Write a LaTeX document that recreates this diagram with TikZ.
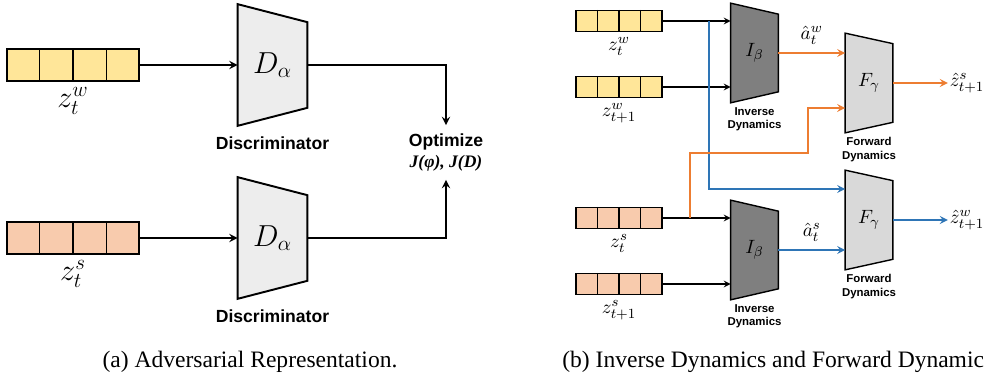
\documentclass[tikz,border=0pt]{standalone}
\usepackage{fontspec}
\setmainfont{Liberation Serif}
\setsansfont{Liberation Sans}
\usetikzlibrary{positioning,calc,backgrounds}

\definecolor{vecyellow}{HTML}{FFE699}
\definecolor{vecpink}{HTML}{F8CBAD}
\definecolor{lineorange}{HTML}{ED7D31}
\definecolor{lineblue}{HTML}{2E75B6}
\definecolor{discgray}{HTML}{EDEDED}
\definecolor{invgray}{HTML}{7F7F7F}
\definecolor{fwdgray}{HTML}{D9D9D9}

\tikzset{
  vec/.style={draw, inner sep=0pt},
  bigvec/.style={vec, line width=1pt, minimum width=2.64cm, minimum height=0.64cm},
  smallvec/.style={vec, line width=0.75pt, minimum width=1.72cm, minimum height=0.42cm},
  bigmath/.style={font=\fontsize{17.28}{20}\selectfont},
  smallmath/.style={font=\fontsize{10.95}{13}\selectfont},
  discbox/.style={minimum width=1.38cm, minimum height=2.42cm, inner sep=0pt, bigmath},
  dynbox/.style={minimum width=0.94cm, minimum height=1.98cm, inner sep=0pt, smallmath},
  lbl/.style={font=\sffamily\bfseries\fontsize{10}{12}\selectfont, inner sep=0pt},
  smalllbl/.style={font=\sffamily\bfseries\fontsize{6.5}{7.8}\selectfont, align=center, inner sep=0pt},
  caption/.style={font=\fontsize{13.4}{16}\selectfont, inner sep=0pt},
  thickline/.style={line width=1.1pt},
  thinline/.style={line width=0.75pt},
  blueline/.style={line width=1pt, draw=lineblue},
  orangeline/.style={line width=1pt, draw=lineorange}
}

\begin{document}
\begin{tikzpicture}[x=0.02cm, y=-0.02cm, >=stealth, node distance=0.1cm]
  \useasboundingbox (0,0) rectangle (987,377);

  % (a) adversarial representation
  \node (zw) [bigvec, fill=vecyellow] at (73,65) {};
  \node (zs) [bigvec, fill=vecpink] at (73,238) {};
  \node (lzw) [below=0.1cm of zw, inner sep=0pt, bigmath] {$z_t^w$};
  \node (lzs) [below=0.1cm of zs, inner sep=0pt, bigmath] {$z_t^s$};

  \node (da1) [discbox] at (272.5,65) {$D_\alpha$};
  \node (da2) [discbox] at (272.5,238) {$D_\alpha$};
  \node (ld1) [below=0.22cm of da1, lbl] {Discriminator};
  \node (ld2) [below=0.22cm of da2, lbl] {Discriminator};

  \node (opt) [lbl, align=center, minimum height=1.08cm] at (446,152.5)
    {Optimize\\{\rmfamily\itshape J(φ), J(D)}};

  \draw[->, thickline] (zw) -- (zw -| da1.west);
  \draw[->, thickline] (zs) -- (zs -| da2.west);
  \draw[->, thickline] (da1.east) -| (opt.north);
  \draw[->, thickline] (da2.east) -| (opt.south);

  % (b) inverse and forward dynamics
  \node (yw1) [smallvec, fill=vecyellow] at (619,21) {};
  \node (yw2) [smallvec, fill=vecyellow] at (619,87) {};
  \node (ys1) [smallvec, fill=vecpink] at (619,218) {};
  \node (ys2) [smallvec, fill=vecpink] at (619,284) {};
  \node (lyw1) [below=0.1cm of yw1, inner sep=0pt, smallmath] {$z_t^w$};
  \node (lyw2) [below=0.1cm of yw2, inner sep=0pt, smallmath] {$z_{t+1}^w$};
  \node (lys1) [below=0.1cm of ys1, inner sep=0pt, smallmath] {$z_t^s$};
  \node (lys2) [below=0.1cm of ys2, inner sep=0pt, smallmath] {$z_{t+1}^s$};

  % cells of the arrays
  \foreach \v/\w in {zw/1pt, zs/1pt, yw1/0.75pt, yw2/0.75pt, ys1/0.75pt, ys2/0.75pt}
    \foreach \i in {1,2,3}
      \draw[line width=\w] ($(\v.north west)!\i/4!(\v.north east)$)
        -- ($(\v.south west)!\i/4!(\v.south east)$);

  \node (ib1) [dynbox] at (754.5,53) {$I_\beta$};
  \node (ib2) [dynbox] at (754.5,250) {$I_\beta$};
  \node (fw1) [dynbox] at (869,83) {$F_\gamma$};
  \node (fw2) [dynbox] at (869,220) {$F_\gamma$};
  \node (lib1) [below=0.08cm of ib1, smalllbl] {Inverse\\Dynamics};
  \node (lib2) [below=0.08cm of ib2, smalllbl] {Inverse\\Dynamics};
  \node (lfw1) [below=0.08cm of fw1, smalllbl] {Forward\\Dynamics};
  \node (lfw2) [below=0.08cm of fw2, smalllbl] {Forward\\Dynamics};

  \node (zsout) [right=1.1cm of fw1, inner sep=1pt, smallmath] {$\hat z_{t+1}^s$};
  \node (zwout) [right=1.1cm of fw2, inner sep=1pt, smallmath] {$\hat z_{t+1}^w$};

  \coordinate (bsplit) at (709,21);
  \coordinate (osplit) at (690,218);
  \coordinate (obend) at (808,153);

  \draw[->, thinline] (yw1) -- (yw1 -| ib1.west);
  \draw[->, thinline] (yw2) -- (yw2 -| ib1.west);
  \draw[->, thinline] (ys1) -- (ys1 -| ib2.west);
  \draw[->, thinline] (ys2) -- (ys2 -| ib2.west);

  \draw[->, blueline] (bsplit) |- ([yshift=0.62cm]fw2.west);
  \draw[->, blueline] (ib2.east) -- node[above=1pt, smallmath] (as) {$\hat a_t^s$} (ib2.east -| fw2.west);
  \draw[->, blueline] (fw2) -- (zwout);

  \draw[->, orangeline] (osplit) |- (obend) |- ([yshift=-0.5cm]fw1.west);
  \draw[->, orangeline] (ib1.east) -- node[above=1pt, smallmath] (aw) {$\hat a_t^w$} (ib1.east -| fw1.west);
  \draw[->, orangeline] (fw1) -- (zsout);

  % trapezoids behind the labels
  \begin{scope}[on background layer]
    \foreach \n/\c/\d in {da1/discgray/0.36cm, da2/discgray/0.36cm}
      \draw[fill=\c, line width=1.1pt] (\n.north west) -- ([yshift=-\d]\n.north east)
        -- ([yshift=\d]\n.south east) -- (\n.south west) -- cycle;
    \foreach \n/\c/\d in {ib1/invgray/0.22cm, ib2/invgray/0.22cm, fw1/fwdgray/0.21cm, fw2/fwdgray/0.21cm}
      \draw[fill=\c, line width=0.8pt] (\n.north west) -- ([yshift=-\d]\n.north east)
        -- ([yshift=\d]\n.south east) -- (\n.south west) -- cycle;
  \end{scope}

  \node (capa) [caption] at (250,362) {(a) Adversarial Representation.};
  \node (capb) [caption, anchor=west] at (562,362) {(b) Inverse Dynamics and Forward Dynamic};
\end{tikzpicture}
\end{document}
